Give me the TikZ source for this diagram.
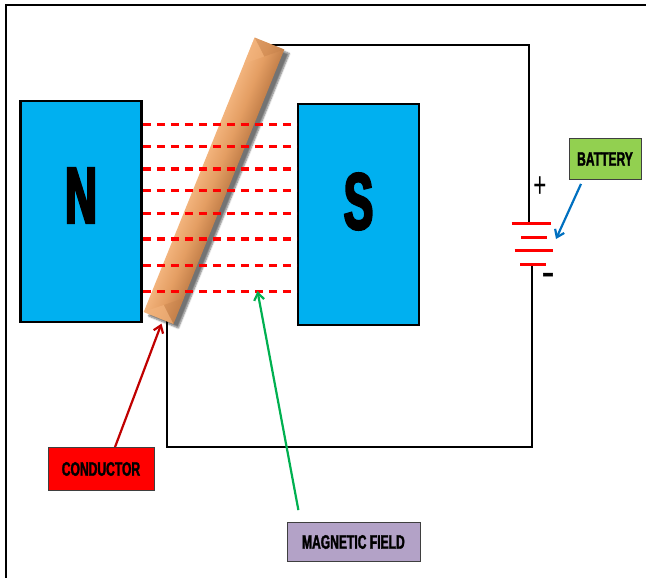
\documentclass[tikz,border=0pt]{standalone}
\usepackage{fontspec}
\usepackage{tikz}
\usetikzlibrary{positioning,arrows.meta,shadows.blur}

\newfontfamily\tagfont[FakeStretch=0.62,FakeBold=1.6]{Liberation Sans}
\newfontfamily\signfont[FakeStretch=0.62]{Liberation Sans}
\newfontfamily\polefont[FakeStretch=0.55,FakeBold=3]{Liberation Sans}

\definecolor{magblue}{HTML}{00B0F0}
\definecolor{condred}{HTML}{FF0000}
\definecolor{battgreen}{HTML}{92D050}
\definecolor{fieldpurple}{HTML}{B3A2C7}
\definecolor{tagborder}{HTML}{3F3F3F}
\definecolor{arrowred}{HTML}{C00000}
\definecolor{arrowgreen}{HTML}{00B050}
\definecolor{arrowblue}{HTML}{0070C0}
\definecolor{rodlight}{HTML}{F2B37C}
\definecolor{rodmid}{HTML}{E49E63}
\definecolor{roddark}{HTML}{C4804A}

\tikzset{
  magnet/.style={draw=black,fill=magblue,line width=2.5pt,inner sep=0pt,
    minimum width=121pt,minimum height=221pt},
  pole/.style={font=\polefont\bfseries\fontsize{80}{80}\selectfont},
  rodbody/.style={minimum width=296pt,minimum height=32pt,inner sep=0pt,
    blur shadow={shadow xshift=5pt,shadow yshift=-4pt,shadow opacity=55,
      shadow blur steps=6}},
  tag/.style={draw=tagborder,line width=0.8pt,inner sep=0pt,
    font=\tagfont\bfseries\fontsize{19.5}{20}\selectfont},
  sign/.style={font=\signfont\fontsize{36}{36}\selectfont,inner sep=0pt},
  wire/.style={line width=2.5pt},
  field/.style={red,line width=3.2pt,dash pattern=on 8pt off 6pt},
  plate/.style={red,line width=3pt},
  pointer/.style={line width=2.2pt,-{Straight Barb[length=7pt,width=10pt]}},
}

\begin{document}
\begin{tikzpicture}[x=1pt,y=-1pt]
  \useasboundingbox (0,0) rectangle (646,578);
  %% outer frame
  \draw[line width=2pt] (5.5,578) -- (5.5,5.5) -- (646,5.5);

  %% the moving conductor (node only gives anchors and shadow)
  \node[rodbody,rotate=68] (rod) at (214,180.75) {};

  %% circuit corners
  \coordinate (tr) at (529,45);
  \coordinate (bplus) at (529,223);
  \coordinate (bminus) at (532,264);
  \coordinate (br) at (532,447);
  \coordinate (bl) at (167,447);

  %% Wires, under the rod
  \draw[wire] (rod.east |- tr) -- (tr) -- (bplus);
  \draw[wire] (bminus) -- (br) -- (bl) -- (bl |- rod.west);

  %% rod surface, shaded across its width
  \begin{scope}[transform canvas={shift={(rod.center)},rotate=68}]
    \shade[top color=rodlight,bottom color=roddark,middle color=rodmid]
      (-148pt,-16pt) rectangle (148pt,16pt);
    %% bevelled ends
    \fill[roddark,opacity=0.45] (148pt,16pt) -- (148pt,-16pt) -- (134pt,0pt) -- cycle;
    \fill[rodlight,opacity=0.5] (148pt,16pt) -- (134pt,0pt) -- (120pt,16pt) -- cycle;
    \fill[rodlight,opacity=0.7] (-148pt,16pt) -- (-148pt,-16pt) -- (-134pt,0pt) -- cycle;
    \fill[roddark,opacity=0.35] (-148pt,-16pt) -- (-134pt,0pt) -- (-120pt,-16pt) -- cycle;
  \end{scope}

  %% Magnets
  \node[magnet] (N) at (81,211.5) {};
  \node[magnet] (S) at (358.5,214.5) {};
  \node[pole] at ([yshift=16pt]N.center) {N};
  \node[pole] at ([yshift=13pt]S.center) {S};

  %% field lines
  \foreach \y in {124.7,146.3,169,190.6,213.4,238.9,265.4,291.2}
    \draw[field] (N.east |- 0,\y) -- (S.west |- 0,\y);

  %% battery
  \foreach \y/\a/\b in {223.4/511.7/550.9,237/521/546.8,250.6/514.6/553.4,264/520/546}
    \draw[plate] (\a,\y) -- (\b,\y);
  \node[sign] (plus) at (540,187) {+};
  \node[sign,font=\tagfont\bfseries\fontsize{30}{30}\selectfont] (minus) at (548,278) {–};

  %% labels
  \node[tag,fill=condred,minimum width=106pt,minimum height=43pt] (cond) at (101,469) {CONDUCTOR};
  \node[tag,fill=battgreen,minimum width=72pt,minimum height=41pt] (batt) at (605,159) {BATTERY};
  \node[tag,fill=fieldpurple,minimum width=133pt,minimum height=39pt] (field) at (353.4,542) {MAGNETIC FIELD};

  %% pointers
  \coordinate (rodfoot) at (161.5,323.6);
  \coordinate (fieldpt) at (257.5,291.2);
  \coordinate (battpt) at (556,239);
  \draw[pointer,arrowred] ([xshift=14pt]cond.north) -- (rodfoot);
  \draw[pointer,arrowgreen] ([xshift=-55pt,yshift=12pt]field.north) -- (fieldpt);
  \draw[pointer,arrowblue] ([xshift=-24pt,yshift=-4pt]batt.south) -- (battpt);
\end{tikzpicture}
\end{document}
